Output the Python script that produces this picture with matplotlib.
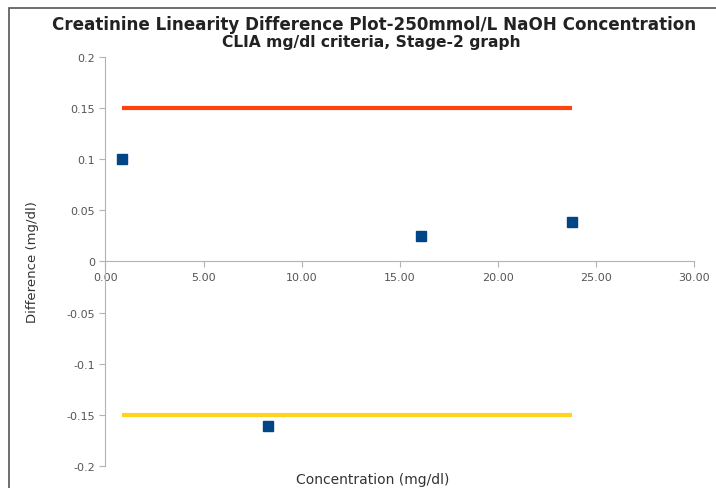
import matplotlib.pyplot as plt
from matplotlib.patches import Rectangle

# Creatinine linearity, difference plot (stage 2)
conc = [0.85, 8.3, 16.1, 23.8]
diff = [0.100, -0.161, 0.025, 0.039]
limite_sup = 0.15
limite_inf = -0.15

xticks = [0, 5, 10, 15, 20, 25, 30]
yticks = [-0.2, -0.15, -0.1, -0.05, 0, 0.05, 0.1, 0.15, 0.2]
ytick_labels = ["-0.2", "-0.15", "-0.1", "-0.05", "0", "0.05", "0.1", "0.15", "0.2"]

titulo_1 = "Creatinine Linearity Difference Plot-250mmol/L NaOH Concentration"
titulo_2 = "CLIA mg/dl criteria, Stage-2 graph"

fig = plt.figure(figsize=(7.16, 4.89), dpi=100)
ax = fig.add_axes([0.1473, 0.045, 0.822, 0.8364])

# criterios CLIA
ax.plot([min(conc), max(conc)], [limite_sup, limite_sup], color="#ff420e", lw=3, solid_capstyle="butt")
ax.plot([min(conc), max(conc)], [limite_inf, limite_inf], color="#ffd320", lw=3, solid_capstyle="butt")
ax.plot(conc, diff, linestyle="none", marker="s", markersize=7.5, color="#004586")

ax.set_xlim(0, 30)
ax.set_ylim(-0.2, 0.2)
ax.set_xticks(xticks)
ax.set_xticklabels([f"{v:.2f}" for v in xticks])
ax.set_yticks(yticks)
ax.set_yticklabels(ytick_labels)

for s in ["top", "right"]:
    ax.spines[s].set_visible(False)
ax.spines["bottom"].set_position(("data", 0))
ax.spines["left"].set_color("#b3b3b3")
ax.spines["bottom"].set_color("#b3b3b3")
ax.tick_params(axis="both", colors="#b3b3b3", labelcolor="#555555", labelsize=8, length=4, width=0.8)

ax.set_ylabel("Difference (mg/dl)", fontsize=9.5, color="#333333", labelpad=20)
fig.text(0.52, 0.018, "Concentration (mg/dl)", ha="center", va="center", fontsize=10, color="#333333")
fig.text(52 / 716, 1 - 25 / 489, titulo_1, ha="left", va="center", fontsize=12.1,
         fontweight="bold", color="#222222")
fig.text(371 / 716, 1 - 43 / 489, titulo_2, ha="center", va="center", fontsize=11.2,
         fontweight="bold", color="#222222")

# marco de la imagen
fig.patches.append(Rectangle((9 / 716, -0.1), 1.2, 1.1 - 9 / 489, transform=fig.transFigure,
                             fill=False, edgecolor="#555555", lw=1.2))

plt.savefig("out.png", dpi=100)
plt.close()
